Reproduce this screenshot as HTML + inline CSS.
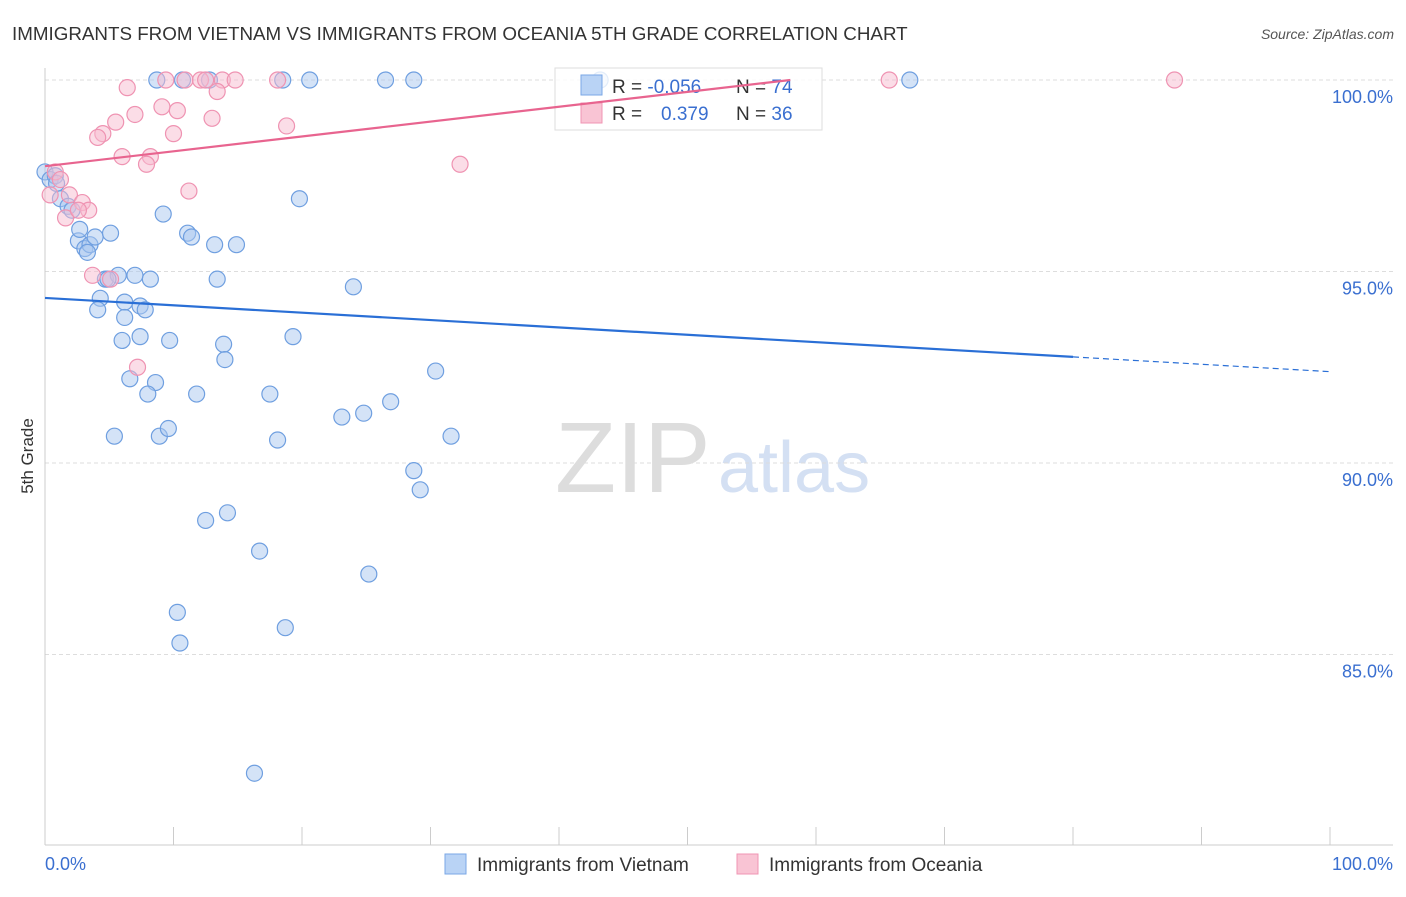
<!DOCTYPE html>
<html><head><meta charset="utf-8"><style>
body{margin:0;background:#fff;font-family:"Liberation Sans",sans-serif;}
svg text{font-family:"Liberation Sans",sans-serif;}
</style></head><body>
<svg id="c" width="1406" height="892">
<text x="12" y="40" font-size="18.8" fill="#333">IMMIGRANTS FROM VIETNAM VS IMMIGRANTS FROM OCEANIA 5TH GRADE CORRELATION CHART</text>
<text x="1394" y="39" font-size="14" fill="#555" text-anchor="end" font-style="italic">Source: ZipAtlas.com</text>
<text transform="translate(33,456) rotate(-90)" font-size="17" fill="#333" text-anchor="middle">5th Grade</text>
<text x="555" y="492" font-size="100" fill="#ddd" font-family="Liberation Serif">ZIP</text>
<text x="718" y="492" font-size="72" fill="#d4e0f3">atlas</text>
<g id="grid"></g><g id="pts"></g>
<g>
<rect x="555" y="68" width="267" height="62" fill="#fff" fill-opacity="0.8" stroke="#ddd"/>
<rect x="581" y="75" width="21" height="20" fill="#b9d3f5" stroke="#7aa7e6"/>
<rect x="581" y="103" width="21" height="20" fill="#f9c4d4" stroke="#f095b3"/>
<text x="612" y="93" font-size="19" fill="#333">R = <tspan fill="#3a6fd0">-0.056</tspan></text>
<text x="736" y="93" font-size="19" fill="#333">N = <tspan fill="#3a6fd0">74</tspan></text>
<text x="612" y="120" font-size="19" fill="#333">R = <tspan fill="#3a6fd0" x="661">0.379</tspan></text>
<text x="736" y="120" font-size="19" fill="#333">N = <tspan fill="#3a6fd0">36</tspan></text>
</g>
<g id="lines"></g>
<g>
<rect x="445" y="854" width="21" height="20" fill="#b9d3f5" stroke="#7aa7e6"/>
<text x="477" y="871" font-size="19" fill="#333">Immigrants from Vietnam</text>
<rect x="737" y="854" width="21" height="20" fill="#f9c4d4" stroke="#f095b3"/>
<text x="769" y="871" font-size="19" fill="#333">Immigrants from Oceania</text>
</g>
<text x="45" y="870" font-size="18" fill="#3a6fd0">0.0%</text>
<text x="1393" y="870" font-size="18" fill="#3a6fd0" text-anchor="end">100.0%</text>
</svg>
<script>
const yTicks=[100,95,90,85];
const yTickLabels=["100.0%","95.0%","90.0%","85.0%"];
const blueX=[0,0.4,0.8,0.9,1.2,1.8,2.1,2.6,2.7,3.1,3.5,3.3,3.9,4.3,4.1,5.1,4.7,5.7,4.9,7.0,8.2,6.2,7.4,7.8,6.2,7.4,6.0,6.6,8.6,8.0,9.7,9.2,5.4,8.9,9.6,11.8,11.1,11.4,13.2,14.9,13.4,13.9,14.0,12.5,14.2,16.7,10.3,10.5,16.3,17.5,18.1,18.7,19.3,19.8,24.0,23.1,24.8,26.9,25.2,28.7,29.2,30.4,31.6,8.7,10.7,12.8,18.5,20.6,26.5,28.7,43.2,67.3];
const blueY=[97.6,97.4,97.5,97.3,96.9,96.7,96.6,95.8,96.1,95.6,95.7,95.5,95.9,94.3,94.0,96.0,94.8,94.9,94.8,94.9,94.8,94.2,94.1,94.0,93.8,93.3,93.2,92.2,92.1,91.8,93.2,96.5,90.7,90.7,90.9,91.8,96.0,95.9,95.7,95.7,94.8,93.1,92.7,88.5,88.7,87.7,86.1,85.3,81.9,91.8,90.6,85.7,93.3,96.9,94.6,91.2,91.3,91.6,87.1,89.8,89.3,92.4,90.7,100,100,100,100,100,100,100,100,100];
const pinkX=[6.4,9.4,10.9,12.1,12.5,13.8,14.8,18.1,13.4,9.1,10.3,7.0,13.0,5.5,4.5,4.1,10.0,8.2,6.0,7.9,18.8,32.3,11.2,0.8,1.2,1.9,2.9,3.4,1.6,2.6,3.7,5.1,7.2,65.7,87.9,0.4];
const pinkY=[99.8,100,100,100,100,100,100,100,99.7,99.3,99.2,99.1,99.0,98.9,98.6,98.5,98.6,98.0,98.0,97.8,98.8,97.8,97.1,97.6,97.4,97.0,96.8,96.6,96.4,96.6,94.9,94.8,92.5,100,100,97.0];
const blueTrend=[94.31,92.77], pinkTrend=[97.75,100];
const NS="http://www.w3.org/2000/svg";
const X=v=>45+v*12.85, Y=v=>80+(100-v)*38.3;
function mk(t,a,p){const e=document.createElementNS(NS,t);for(const k in a)e.setAttribute(k,a[k]);p.appendChild(e);return e;}
const g=document.getElementById('grid');
yTicks.forEach((t,i)=>{const l=mk('line',{x1:45,x2:1393,y1:Y(t),y2:Y(t),stroke:'#ddd','stroke-dasharray':'4,3'},g);

const tx=mk('text',{x:1393,y:Y(t)+23,'font-size':18,fill:'#3a6fd0','text-anchor':'end'},g);tx.textContent=yTickLabels[i];
});
mk('line',{x1:45,x2:45,y1:68,y2:845,stroke:'#ccc'},g);
mk('line',{x1:45,x2:1393,y1:845,y2:845,stroke:'#ccc'},g);
for(let i=0;i<=10;i++){const t=mk('line',{x1:X(i*10),x2:X(i*10),y1:827,y2:845,stroke:'#ccc'},g);
}
const p=document.getElementById('pts');
blueX.forEach((x,i)=>{const c=mk('circle',{cx:X(x),cy:Y(blueY[i]),r:8,fill:'#a9c8f0','fill-opacity':0.5,stroke:'#6f9fe0','stroke-width':1.2},p);
});
pinkX.forEach((x,i)=>{const c=mk('circle',{cx:X(x),cy:Y(pinkY[i]),r:8,fill:'#f7bcd0','fill-opacity':0.5,stroke:'#ef93b2','stroke-width':1.2},p);
});
const L=document.getElementById('lines');
const bs=(blueTrend[1]-blueTrend[0])/80;
let a=mk('line',{x1:X(0),y1:Y(blueTrend[0]),x2:X(80),y2:Y(blueTrend[1]),stroke:'#2a6fd6','stroke-width':2.2},L);

a=mk('line',{x1:X(80),y1:Y(blueTrend[1]),x2:X(100),y2:Y(blueTrend[0]+bs*100),stroke:'#2a6fd6','stroke-width':1.2,'stroke-dasharray':'6,4'},L);

a=mk('line',{x1:X(0),y1:Y(pinkTrend[0]),x2:X(58),y2:Y(pinkTrend[1]),stroke:'#e8648f','stroke-width':2.2},L);

</script>
</body></html>
